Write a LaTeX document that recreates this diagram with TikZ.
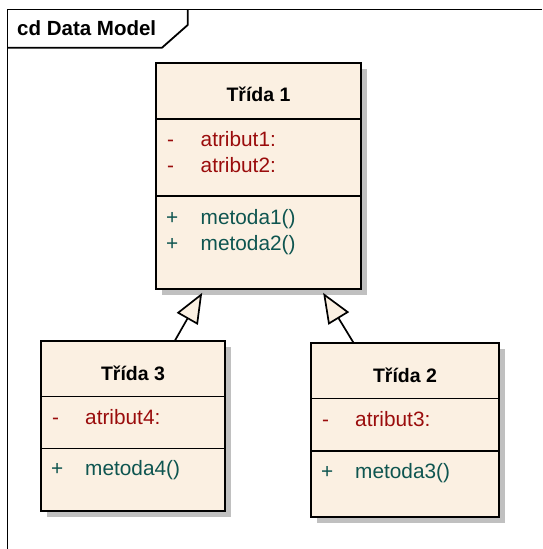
\documentclass[tikz,border=0pt]{standalone}
\usepackage{fontspec}
\setmainfont{Liberation Sans}
\usetikzlibrary{arrows.meta,shadows,calc}

\definecolor{classfill}{HTML}{FBF0E2}
\definecolor{shadowgray}{HTML}{C0C0C0}
\definecolor{attrred}{HTML}{9A0C0C}
\definecolor{opteal}{HTML}{0E5550}

\tikzset{
  umlbox/.style={draw=black, line width=1.7pt, fill=classfill, inner sep=0pt,
    general shadow={fill=shadowgray, shadow xshift=6pt, shadow yshift=-6pt}},
  umlsep/.style={draw=black, line width=1.7pt},
  classname/.style={anchor=base, inner sep=0pt, font=\fontsize{19.5}{22}\selectfont\bfseries},
  attrtext/.style={anchor=base west, inner sep=0pt, text=attrred, font=\fontsize{20.8}{24}\selectfont},
  optext/.style={anchor=base west, inner sep=0pt, text=opteal, font=\fontsize{20.8}{24}\selectfont},
  framestyle/.style={draw=black, line width=1.8pt},
  generalization/.style={draw=black, line width=1.7pt,
    -{Triangle[length=30pt, width=24pt, fill=classfill, line join=miter]}},
}

\begin{document}
\begin{tikzpicture}[x=1pt, y=-1pt]
  \useasboundingbox (0,0) rectangle (542,549);
  \fill[white] (0,0) rectangle (542,549);

  % diagram frame with its name tab
  \draw[framestyle] (542,9.5) -- (7.5,9.5) -- (7.5,549);
  \draw[framestyle] (7.5,47.7) -- (162,47.7) -- (187.7,25) -- (187.7,9.5);
  \node[anchor=base west, inner sep=0pt, font=\fontsize{20.5}{24}\selectfont\bfseries]
    (frametitle) at (17,35) {cd Data Model};

  % class Třída 1
  \node[umlbox, minimum width=205pt, minimum height=226pt] (b1) at (258.5,176) {};
  \draw[umlsep] (156,119) -- (361,119);
  \draw[umlsep] (156,196) -- (361,196);
  \node[classname] (b1name) at (258.5,101) {Třída 1};
  \node[attrtext] (b1m1) at (167,146) {-};
  \node[attrtext] (b1a1) at (200.5,146) {atribut1:};
  \node[attrtext] (b1m2) at (167,172.5) {-};
  \node[attrtext] (b1a2) at (200.5,172.5) {atribut2:};
  \node[optext] (b1p1) at (166,224) {+};
  \node[optext] (b1o1) at (200.5,224) {metoda1()};
  \node[optext] (b1p2) at (166,250.5) {+};
  \node[optext] (b1o2) at (200.5,250.5) {metoda2()};

  % class Třída 3
  \node[umlbox, minimum width=184pt, minimum height=170pt] (b3) at (133,426) {};
  \draw[umlsep] (41,396.5) -- (225,396.5);
  \draw[umlsep] (41,448.5) -- (225,448.5);
  \node[classname] (b3name) at (133,380) {Třída 3};
  \node[attrtext] (b3m1) at (52,424.5) {-};
  \node[attrtext] (b3a1) at (85,424.5) {atribut4:};
  \node[optext] (b3p1) at (51,475.5) {+};
  \node[optext] (b3o1) at (85,475.5) {metoda4()};

  % class Třída 2
  \node[umlbox, minimum width=188pt, minimum height=174pt] (b2) at (405,430) {};
  \draw[umlsep] (311,398.5) -- (499,398.5);
  \draw[umlsep] (311,451) -- (499,451);
  \node[classname] (b2name) at (405,382) {Třída 2};
  \node[attrtext] (b2m1) at (322,426) {-};
  \node[attrtext] (b2a1) at (355,426) {atribut3:};
  \node[optext] (b2p1) at (321,478.5) {+};
  \node[optext] (b2o1) at (355,478.5) {metoda3()};

  % generalization connectors
  \coordinate (g3src) at ($(b3.north west)+(135,0)$);
  \coordinate (g3tip) at ($(b1.south west)+(47,3)$);
  \coordinate (g2src) at ($(b2.north west)+(43,0)$);
  \coordinate (g2tip) at ($(b1.south west)+(168,3)$);
  \draw[generalization] (g3src) -- (g3tip);
  \draw[generalization] (g2src) -- (g2tip);
\end{tikzpicture}
\end{document}
